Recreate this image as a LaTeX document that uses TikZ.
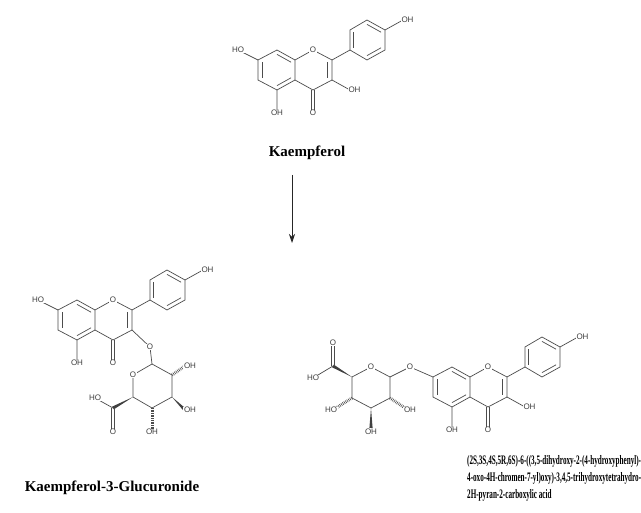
\documentclass[tikz,border=0pt]{standalone}
\usepackage{fontspec}
\setmainfont{Liberation Serif}
\newfontfamily\atomfont{Liberation Sans}
\usetikzlibrary{calc,arrows.meta}
\tikzset{bond/.style={draw=black!70,line width=0.7pt},
 atom/.style={fill=white,inner sep=0.6pt,text=black!75,font=\atomfont\fontsize{8}{8}\selectfont},
 hash/.style={draw=black!70,line width=3pt,dash pattern=on 0.6pt off 1.1pt},
 title/.style={font=\bfseries\fontsize{15}{17}\selectfont}}
\newcommand\dbl[3]{\draw[bond] ($(#1)!0.22!(#3)$) -- ($(#2)!0.22!(#3)$);}
\newcommand\wdg[2]{\fill[black!75] (#1) -- ($(#2)!1.6pt!90:(#1)$) -- ($(#2)!1.6pt!-90:(#1)$) -- cycle;}
\newcommand\flavone[3]{%
\begin{scope}[shift={(#2,#3)}]
\coordinate (#1o1) at (313,50); \coordinate (#1c2) at (332,60);
\coordinate (#1c3) at (332,80); \coordinate (#1c4) at (313,90);
\coordinate (#1c4a) at (295,80); \coordinate (#1c8a) at (295,60);
\coordinate (#1c8) at (277,50); \coordinate (#1c7) at (258,60);
\coordinate (#1c6) at (258,80); \coordinate (#1c5) at (277,90);
\coordinate (#1o4) at (313,113); \coordinate (#1o5) at (277,113);
\coordinate (#1o3) at (350,90);
\coordinate (#1ca) at (277,70); \coordinate (#1cc) at (313,70);
\coordinate (#1b1) at (350,50); \coordinate (#1b2) at (350,30);
\coordinate (#1b3) at (367,20); \coordinate (#1b4) at (385,30);
\coordinate (#1b5) at (385,50); \coordinate (#1b6) at (367,60);
\coordinate (#1cb) at (367,40); \coordinate (#1o4p) at (403,20);
\end{scope}
\draw[bond] (#1o1)--(#1c2)--(#1c3)--(#1c4)--(#1c4a)--(#1c8a)--cycle;
\draw[bond] (#1c8a)--(#1c8)--(#1c7)--(#1c6)--(#1c5)--(#1c4a);
\draw[bond] (#1b1)--(#1b2)--(#1b3)--(#1b4)--(#1b5)--(#1b6)--cycle;
\draw[bond] (#1c2)--(#1b1) (#1b4)--(#1o4p) (#1c5)--(#1o5);
\draw[bond] ($(#1c4)+(-1.3,0)$)--($(#1o4)+(-1.3,0)$) ($(#1c4)+(1.3,0)$)--($(#1o4)+(1.3,0)$);
\dbl{#1c6}{#1c7}{#1ca}\dbl{#1c8}{#1c8a}{#1ca}\dbl{#1c4a}{#1c5}{#1ca}
\dbl{#1c2}{#1c3}{#1cc}
\dbl{#1b1}{#1b2}{#1cb}\dbl{#1b3}{#1b4}{#1cb}\dbl{#1b5}{#1b6}{#1cb}
}
\begin{document}
\begin{tikzpicture}[x=1pt,y=-1pt]
\useasboundingbox[fill=white] (0,0) rectangle (641,513);
% ---- Kaempferol
\flavone{k}{0}{0}
\coordinate (kho7) at (238,50);
\draw[bond] (kc7)--(kho7) (kc3)--(ko3);
\node[atom] at (kho7) {HO};
\node[atom] at (ko1) {O};
\node[atom] at (ko4) {O};
\node[atom] at (ko5) {OH};
\node[atom,anchor=west,inner sep=0.3pt] at ($(ko3)+(-2,0)$) {OH};
\node[atom,anchor=west,inner sep=0.3pt] at ($(ko4p)+(-2,0)$) {OH};
\node[title] (kname) at (307,153) {Kaempferol};
\coordinate (arA) at (292,175); \coordinate (arB) at (292,243);
\draw[black!85,line width=0.8pt,-{Stealth[length=9pt,width=6pt]}] (arA)--(arB);
% ---- Kaempferol-3-glucuronide
\flavone{g}{-200}{250}
\coordinate (gho7) at (38,300);
\draw[bond] (gc7)--(gho7);
\coordinate (gol) at (150,347);
\coordinate (s1) at (152,364); \coordinate (s5o) at (133,375);
\coordinate (s5) at (133,397); \coordinate (s4) at (152,408);
\coordinate (s3) at (172,397); \coordinate (s2) at (172,375);
\coordinate (s2o) at (190,366); \coordinate (s3o) at (190,410);
\coordinate (s4o) at (152,432); \coordinate (scc) at (113,408);
\coordinate (scoh) at (95,398); \coordinate (sco) at (113,432);
\draw[bond] (gc3)--(gol)--(s1);
\draw[bond] (s1)--(s5o)--(s5)--(s4)--(s3)--(s2)--cycle;
\draw[hash] (s2)--($(s2o)+(-5,0)$);
\wdg{s3}{$(s3o)+(-5,0)$}
\draw[hash] (s4)--($(s4o)+(0,-3)$);
\wdg{s5}{scc}
\draw[bond] (scc)--(scoh);
\draw[bond] ($(scc)+(-1.3,0)$)--($(sco)+(-1.3,0)$) ($(scc)+(1.3,0)$)--($(sco)+(1.3,0)$);
\node[atom] at (gho7) {HO};
\node[atom] at (go1) {O};
\node[atom] at (go4) {O};
\node[atom] at (go5) {OH};
\node[atom,anchor=west,inner sep=0.3pt] at ($(go4p)+(-2,0)$) {OH};
\node[atom] at (gol) {O};
\node[atom] at (s5o) {O};
\node[atom] at (s2o) {OH};
\node[atom] at (s3o) {OH};
\node[atom] at (s4o) {OH};
\node[atom] at (scoh) {HO};
\node[atom] at (sco) {O};
\node[title] (gname) at (112,488) {Kaempferol-3-Glucuronide};
% ---- 7-O-glucuronide
\flavone{r}{175}{317}
\coordinate (rol) at (410,367);
\coordinate (t1) at (390,377); \coordinate (t5o) at (371,367);
\coordinate (t5) at (352,377); \coordinate (t4) at (352,398);
\coordinate (t3) at (371,408); \coordinate (t2) at (390,398);
\coordinate (t2o) at (410,410); \coordinate (t4o) at (331,410);
\coordinate (t3o) at (371,432); \coordinate (tcc) at (333,366);
\coordinate (tcoh) at (313,378); \coordinate (tco) at (333,343);
\draw[bond] (rc3)--(ro3);
\draw[bond] (rc7)--(rol)--(t1);
\draw[bond] (t1)--(t5o)--(t5)--(t4)--(t3)--(t2)--cycle;
\draw[hash] (t2)--($(t2o)+(-5,-2)$);
\draw[hash] (t4)--($(t4o)+(5,-2)$);
\wdg{t3}{$(t3o)+(0,-4)$}
\wdg{t5}{tcc}
\draw[bond] (tcc)--(tcoh);
\draw[bond] ($(tcc)+(-1.3,0)$)--($(tco)+(-1.3,0)$) ($(tcc)+(1.3,0)$)--($(tco)+(1.3,0)$);
\node[atom] at (ro1) {O};
\node[atom] at (ro4) {O};
\node[atom] at (ro5) {OH};
\node[atom,anchor=west,inner sep=0.3pt] at ($(ro3)+(-2,0)$) {OH};
\node[atom,anchor=west,inner sep=0.3pt] at ($(ro4p)+(-2,0)$) {OH};
\node[atom] at (rol) {O};
\node[atom] at (t5o) {O};
\node[atom] at (t2o) {OH};
\node[atom] at (t4o) {HO};
\node[atom] at (t3o) {OH};
\node[atom] at (tcoh) {HO};
\node[atom] at (tco) {O};
\node[anchor=north west,align=left,inner sep=0pt,font=\bfseries\fontsize{13}{17}\selectfont] (rname) at (467,455)
 {\scalebox{0.55}[1]{(2S,3S,4S,5R,6S)-6-((3,5-dihydroxy-2-(4-hydroxyphenyl)-}\\\scalebox{0.55}[1]{4-oxo-4H-chromen-7-yl)oxy)-3,4,5-trihydroxytetrahydro-}\\\scalebox{0.55}[1]{2H-pyran-2-carboxylic acid}};
\end{tikzpicture}
\end{document}
